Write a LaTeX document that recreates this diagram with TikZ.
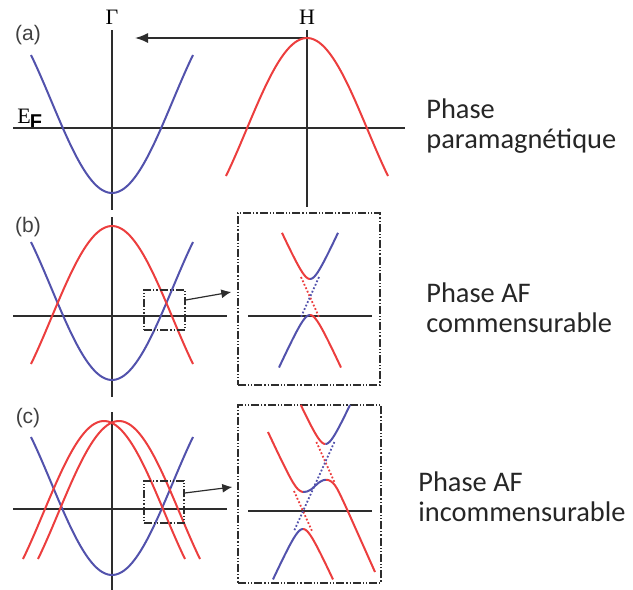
\documentclass[tikz,border=0pt]{standalone}
\usepackage{fontspec}
\setmainfont{Carlito}
\newfontfamily\serifsym{Liberation Serif}
\newfontfamily\panelfont{Liberation Sans}
\usepackage{xcolor}
\usepackage{tikz}
\usetikzlibrary{arrows.meta}

\definecolor{bandblue}{RGB}{82,82,172}
\definecolor{bandred}{RGB}{236,62,62}
\definecolor{axisgray}{RGB}{45,45,45}

\begin{document}
\begin{tikzpicture}[
    x=0.5pt,
    y=-0.5pt,
    axis/.style={draw=axisgray, line width=0.8pt},
    blueband/.style={draw=bandblue, line width=1pt},
    redband/.style={draw=bandred, line width=1pt},
    ghost/.style={line width=0.9pt, densely dotted},
    zoombox/.style={
        draw=axisgray,
        line width=0.7pt,
        dash pattern=on 4pt off 1pt on 0.6pt off 1pt on 0.6pt off 1pt,
        inner sep=0pt
    },
    arrow/.style={-{Latex[length=5pt,width=4.5pt]}, draw=axisgray, line width=0.6pt},
    panel/.style={font=\panelfont\fontsize{10.5}{12}\selectfont, text=black!75, inner sep=0pt},
    sym/.style={font=\serifsym\fontsize{11}{12}\selectfont, inner sep=0pt},
    phase/.style={
        font=\fontsize{14.2}{14.8}\selectfont,
        align=left,
        anchor=west,
        inner sep=0pt,
        text=black!85
    }
]
\useasboundingbox (0,0) rectangle (633,590);

% labels
\node[sym] (gamma) at (112,17) {Γ};
\node[sym] (hpoint) at (307,17) {H};
\node[sym, font=\serifsym\fontsize{11}{12}\selectfont, anchor=base west] (ef) at (17,123)
    {E\kern-0.5pt\raisebox{-2.5pt}{\panelfont\bfseries\fontsize{10}{11}\selectfont F}};
\node[panel] (pa) at (28,35) {(a)};
\node[panel] (pb) at (28,227) {(b)};
\node[panel] (pc) at (28,418) {(c)};

\node[phase] (phasea) at (426,126) {Phase\\paramagnétique};
\node[phase] (phaseb) at (426,308) {Phase AF\\commensurable};
\node[phase] (phasec) at (418,497) {Phase AF\\incommensurable};

% axes
\draw[axis] (112,30) -- (112,210);
\draw[axis] (307,30) -- (307,207);
\draw[axis] (13,128) -- (405,128);
\draw[axis] (112,217) -- (112,397);
\draw[axis] (13,316) -- (227,316);
\draw[axis] (112,412) -- (112,590);
\draw[axis] (13,509) -- (227,509);

% folding arrow H -> Gamma
\coordinate (htop) at (307,38);
\coordinate (gend) at (135,38);
\draw[arrow, line width=0.8pt, -{Latex[length=6.5pt,width=5pt]}] (htop) -- (gend);

% (a) paramagnetic bands
\draw[blueband] plot[domain=31:193, samples=60] (\x, {101.3+91.7*cos(1.4856*(\x-112))});
\draw[redband] plot[domain=226:388, samples=60] (\x, {129.7-91.7*cos(1.4856*(\x-307))});

% (b) folded bands
\draw[blueband] plot[domain=31:193, samples=60] (\x, {288.3+91.7*cos(1.4856*(\x-112))});
\draw[redband] plot[domain=31:193, samples=60] (\x, {317.7-91.7*cos(1.4856*(\x-112))});

% (c) folded bands, split red pair
\draw[blueband] plot[domain=31:193, samples=60] (\x, {483.3+91.7*cos(1.4856*(\x-112))});
\draw[redband] plot[domain=23:185, samples=60] (\x, {512.7-91.7*cos(1.4856*(\x-104))});
\draw[redband] plot[domain=38:200, samples=60] (\x, {512.7-91.7*cos(1.4856*(\x-119))});

% zoom boxes and insets
\node[zoombox, minimum width=20.5pt, minimum height=20pt] (zoomb) at (164.5,310) {};
\node[zoombox, minimum width=20pt, minimum height=21pt] (zoomc) at (164,502) {};
\node[zoombox, minimum width=71pt, minimum height=86pt] (insetb) at (309,299) {};
\node[zoombox, minimum width=71.5pt, minimum height=89pt] (insetc) at (309.5,494) {};

\draw[arrow] ([yshift=5pt]zoomb.east) -- ([xshift=-3pt,yshift=3.5pt]insetb.west);
\draw[arrow] ([yshift=4.5pt]zoomc.east) -- ([xshift=-2.5pt,yshift=3.5pt]insetc.west);

% inset (b): one gap at the crossing
\draw[axis] (248,316) -- (372,316);
\draw[redband] plot[domain=282:310, samples=30] (\x, {297-sqrt(324+(2.2*(\x-310))^2)});
\draw[blueband] plot[domain=310:338, samples=30] (\x, {297-sqrt(324+(2.2*(\x-310))^2)});
\draw[blueband] plot[domain=279:310, samples=30] (\x, {297+sqrt(324+(2.2*(\x-310))^2)});
\draw[redband] plot[domain=310:341, samples=30] (\x, {297+sqrt(324+(2.2*(\x-310))^2)});
\draw[ghost, bandred] (301,277) -- (319,317);
\draw[ghost, bandblue] (319,277) -- (301,317);

% inset (c): two gaps
\draw[axis] (248,511) -- (372,511);
\draw[redband] plot[domain=300.8:325.4, samples=30] (\x, {462-sqrt(324+(2.2*(\x-325.4))^2)});
\draw[blueband] plot[domain=325.4:350, samples=30] (\x, {462-sqrt(324+(2.2*(\x-325.4))^2)});
\draw[redband] plot[smooth, tension=0.6] coordinates
    {(268,432) (280,457.3) (290,477.2) (296,487) (300,490.8) (303,492)};
\draw[blueband] plot[smooth, tension=0.6] coordinates
    {(303,492) (307,491.5) (311,489.5) (315,486) (319,482.5) (323,480.3) (326,479.8)};
\draw[redband] plot[smooth, tension=0.6] coordinates
    {(326,479.8) (329,480.3) (333,483) (337,488.5) (342,498.5) (350,516) (375,572)};
\draw[blueband] plot[domain=273:303, samples=30] (\x, {511+sqrt(324+(2.2*(\x-303))^2)});
\draw[redband] plot[domain=303:333, samples=30] (\x, {511+sqrt(324+(2.2*(\x-303))^2)});
\draw[ghost, bandred] (316.4,442) -- (334.4,482);
\draw[ghost, bandred] (294,491) -- (312,531);
\draw[ghost, bandblue] (334.4,442) -- (294,531);

\end{tikzpicture}
\end{document}
